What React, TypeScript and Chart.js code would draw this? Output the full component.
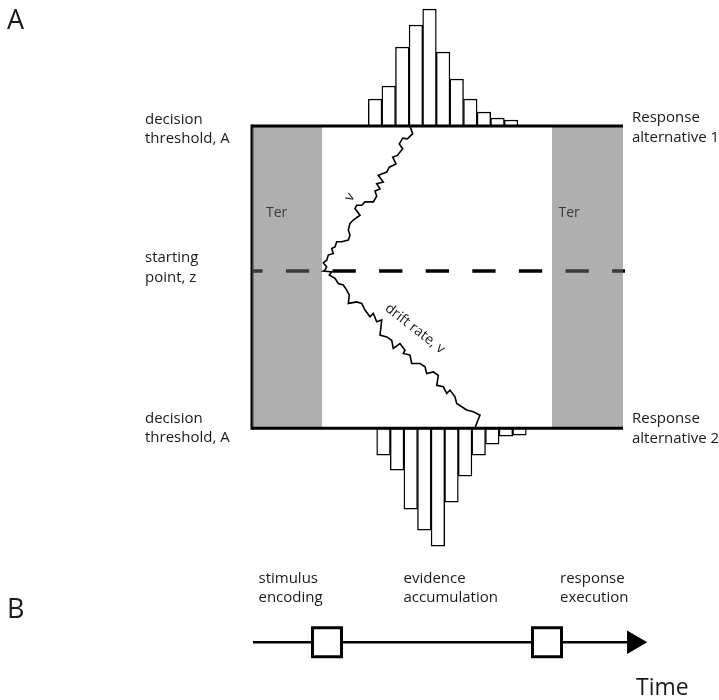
import { useEffect, useRef } from "react";
import { Chart, registerables } from "chart.js";

Chart.register(...registerables);

// ---- Model quantities (time in ms, evidence in units of the threshold A) ----
const THRESHOLD_A = 1;
const STARTING_POINT_Z = 0.52;
const TRIAL_END = 742;
const ENCODING_END = 140; // Ter (stimulus encoding)
const EXECUTION_START = 600; // Ter (response execution)
const DASH_END = 746;

// Reaction-time histograms (bin centres in ms, counts)
const topBinCenters = [246.2, 273.4, 300.6, 327.8, 355.0, 382.2, 409.4, 436.6, 463.8, 491.0, 518.2];
const topCounts = [27, 40, 79, 101, 117, 74, 47, 27, 14, 8, 6];
const bottomBinCenters = [263.0, 290.2, 317.4, 344.6, 371.8, 399.0, 426.2, 453.4, 480.6, 507.8, 535.0];
const bottomCounts = [27, 42, 81, 102, 118, 74, 48, 27, 16, 8, 7];
const COUNT_TO_EVIDENCE = 1 / 302;

// Sample diffusion paths (time ms, evidence)
const upperWalkT = [146, 149.4, 142.6, 149.4, 152.6, 162.6, 159.4, 166, 169.4, 179.4, 192.6, 196, 192.6, 196, 202.6, 216, 206, 209.4, 219.4, 226, 242.6, 249.4, 246, 256, 249.4, 262.6, 252.6, 269.4, 274.6, 288, 281.4, 290.6, 301.4, 294.6, 301.4, 310.6, 321.4, 316];
const upperWalkE = [0.523, 0.534, 0.547, 0.556, 0.573, 0.578, 0.595, 0.6, 0.617, 0.617, 0.623, 0.639, 0.656, 0.678, 0.689, 0.705, 0.727, 0.738, 0.738, 0.749, 0.749, 0.768, 0.785, 0.792, 0.809, 0.815, 0.837, 0.848, 0.864, 0.875, 0.897, 0.903, 0.925, 0.941, 0.96, 0.958, 0.975, 1.0];
const lowerWalkT = [146, 142.6, 159.4, 154.6, 166, 172.6, 182.6, 189.4, 194.6, 192.6, 209.4, 219.4, 226, 236, 242.6, 249.4, 259.4, 256, 269.4, 279.4, 282.6, 296, 306, 302.6, 316, 319.4, 336, 346, 349.4, 362.6, 372.6, 369.4, 382.6, 389.4, 396, 406, 409.4, 419.4, 429.4, 442.6, 456, 449.4, 446];
const lowerWalkE = [0.523, 0.52, 0.517, 0.507, 0.496, 0.479, 0.474, 0.457, 0.44, 0.413, 0.418, 0.413, 0.391, 0.369, 0.38, 0.352, 0.358, 0.308, 0.302, 0.291, 0.264, 0.28, 0.258, 0.247, 0.242, 0.214, 0.214, 0.203, 0.181, 0.186, 0.175, 0.142, 0.137, 0.115, 0.126, 0.104, 0.082, 0.071, 0.06, 0.054, 0.043, 0.016, 0.0];

// Panel B: processing stages on the time line
const TIMELINE_LEVEL = -0.709;
const TIMELINE_START = 2;
const TIMELINE_END = 752;
const stageBoundaries = [150, 590];
const ARROW_AT = 763.6;

// Axis ranges
const X_MIN = -504;
const X_MAX = 934;
const Y_MIN = -0.9;
const Y_MAX = 1.4175;

const FONT = '"Open Sans", "Noto Sans", sans-serif';
const INK = "#1a1a1a";
const OVERLAY = "rgba(108,108,108,0.54)";

type Label = {
  lines: string[];
  t: number;
  e: number;
  size: number;
  lh?: number;
  color?: string;
  rotate?: number;
  align?: CanvasTextAlign;
  baseline?: CanvasTextBaseline;
};

const LABELS: Label[] = [
  { lines: ["A"], t: -490, e: 1.321, size: 27 },
  { lines: ["decision", "threshold, A"], t: -214, e: 1.007, size: 15, lh: 19 },
  { lines: ["starting", "point, z"], t: -214, e: 0.55, size: 15, lh: 19.5 },
  { lines: ["decision", "threshold, A"], t: -214, e: 0.017, size: 15, lh: 19 },
  { lines: ["Response", "alternative 1"], t: 760, e: 1.012, size: 15, lh: 19.5 },
  { lines: ["Response", "alternative 2"], t: 760, e: 0.017, size: 15, lh: 19.5 },
  { lines: ["Ter"], t: 28, e: 0.698, size: 14, color: "#3a3a3a" },
  { lines: ["Ter"], t: 613, e: 0.698, size: 14, color: "#3a3a3a" },
  { lines: ["v"], t: 196, e: 0.765, size: 14, rotate: -59, align: "center", baseline: "middle" },
  { lines: ["drift rate, v"], t: 326, e: 0.329, size: 14, rotate: 38, align: "center", baseline: "middle" },
  { lines: ["B"], t: -490, e: -0.629, size: 27 },
  { lines: ["stimulus", "encoding"], t: 13, e: -0.514, size: 15, lh: 19 },
  { lines: ["evidence", "accumulation"], t: 303, e: -0.514, size: 15, lh: 19 },
  { lines: ["response", "execution"], t: 616, e: -0.514, size: 15, lh: 19 },
  { lines: ["Time"], t: 768, e: -0.884, size: 23 },
];

const labelPlugin = {
  id: "ddmLabels",
  afterDatasetsDraw(chart: any) {
    const { ctx } = chart;
    const xs = chart.scales.x;
    const ys = chart.scales.y;
    for (const l of LABELS) {
      ctx.save();
      ctx.translate(xs.getPixelForValue(l.t), ys.getPixelForValue(l.e));
      if (l.rotate) ctx.rotate((l.rotate * Math.PI) / 180);
      ctx.font = `${l.size}px ${FONT}`;
      ctx.fillStyle = l.color || INK;
      ctx.textAlign = l.align || "left";
      ctx.textBaseline = l.baseline || "alphabetic";
      l.lines.forEach((s, i) => ctx.fillText(s, 0, i * (l.lh || 0)));
      ctx.restore();
    }
  },
};

const pts = (ts: number[], es: number[]) => ts.map((t, i) => ({ x: t, y: es[i] }));

const lineDs = (label: string, data: any[], extra: any = {}) => ({
  type: "line" as const,
  label,
  data,
  showLine: true,
  borderColor: "#000",
  borderWidth: 3,
  pointRadius: 0,
  fill: false,
  tension: 0,
  ...extra,
});

export default function App() {
  const ref = useRef<HTMLCanvasElement | null>(null);

  useEffect(() => {
    document.body.style.margin = "0";
    const canvas = ref.current;
    if (!canvas) return;

    const chart = new Chart(canvas, {
      type: "scatter",
      data: {
        datasets: [
          lineDs("starting point", [
            { x: 0, y: STARTING_POINT_Z },
            { x: DASH_END, y: STARTING_POINT_Z },
          ], { borderWidth: 3.5, borderDash: [23.3, 23.3], borderDashOffset: 12.7, order: 10 }),
          lineDs("left edge", [
            { x: 0, y: 0 },
            { x: 0, y: THRESHOLD_A },
          ], { borderCapStyle: "square", order: 9 }),
          lineDs("Ter encoding", [
            { x: 0, y: THRESHOLD_A },
            { x: ENCODING_END, y: THRESHOLD_A },
          ], { borderWidth: 0, fill: { value: 0 }, backgroundColor: OVERLAY, order: 8 }),
          lineDs("Ter execution", [
            { x: EXECUTION_START, y: THRESHOLD_A },
            { x: TRIAL_END, y: THRESHOLD_A },
          ], { borderWidth: 0, fill: { value: 0 }, backgroundColor: OVERLAY, order: 8 }),
          {
            type: "bar" as const,
            label: "RT alternative 1",
            data: topBinCenters.map((c, i) => ({ x: c, y: [THRESHOLD_A, THRESHOLD_A + topCounts[i] * COUNT_TO_EVIDENCE] })),
            backgroundColor: "#fff",
            borderColor: "#000",
            borderWidth: 1.4,
            borderSkipped: false,
            barPercentage: 1,
            categoryPercentage: 1,
            grouped: false,
            xAxisID: "x",
            order: 7,
          },
          {
            type: "bar" as const,
            label: "RT alternative 2",
            data: bottomBinCenters.map((c, i) => ({ x: c, y: [-bottomCounts[i] * COUNT_TO_EVIDENCE, 0] })),
            backgroundColor: "#fff",
            borderColor: "#000",
            borderWidth: 1.4,
            borderSkipped: false,
            barPercentage: 1,
            categoryPercentage: 1,
            grouped: false,
            xAxisID: "x2",
            order: 7,
          },
          lineDs("threshold A", [
            { x: 0, y: THRESHOLD_A },
            { x: TRIAL_END, y: THRESHOLD_A },
          ], { order: 6 }),
          lineDs("threshold 0", [
            { x: 0, y: 0 },
            { x: TRIAL_END, y: 0 },
          ], { order: 6 }),
          lineDs("walk up", pts(upperWalkT, upperWalkE), { borderWidth: 1.6, borderJoinStyle: "miter", order: 5 }),
          lineDs("walk down", pts(lowerWalkT, lowerWalkE), { borderWidth: 1.6, borderJoinStyle: "miter", order: 5 }),
          lineDs("time line", [
            { x: TIMELINE_START, y: TIMELINE_LEVEL },
            { x: TIMELINE_END, y: TIMELINE_LEVEL },
          ], { borderWidth: 2.5, order: 4 }),
          {
            type: "scatter" as const,
            label: "stage boundaries",
            data: stageBoundaries.map((t) => ({ x: t, y: TIMELINE_LEVEL })),
            showLine: false,
            pointStyle: "rect",
            pointRadius: 20.5,
            pointBorderWidth: 3,
            pointBorderColor: "#000",
            pointBackgroundColor: "#fff",
            order: 3,
          },
          {
            type: "scatter" as const,
            label: "arrow",
            data: [{ x: ARROW_AT, y: TIMELINE_LEVEL }],
            showLine: false,
            pointStyle: "triangle",
            pointRotation: 90,
            pointRadius: 13.5,
            pointBorderWidth: 0,
            pointBackgroundColor: "#000",
            order: 3,
          },
        ] as any,
      },
      options: {
        responsive: false,
        maintainAspectRatio: false,
        animation: false,
        events: [],
        layout: { padding: 0, autoPadding: false },
        plugins: { legend: { display: false }, tooltip: { enabled: false } },
        scales: {
          x: { type: "linear", min: X_MIN, max: X_MAX, display: false, offset: false, ticks: { display: false } },
          x2: { type: "linear", axis: "x", min: X_MIN, max: X_MAX, display: false, offset: false, ticks: { display: false } },
          y: { type: "linear", min: Y_MIN, max: Y_MAX, display: false },
        } as any,
      },
      plugins: [labelPlugin],
    });

    return () => chart.destroy();
  }, []);

  return (
    <div style={{ width: 719, height: 700, background: "#fff" }}>
      <canvas ref={ref} width={719} height={700} style={{ display: "block" }} />
    </div>
  );
}
